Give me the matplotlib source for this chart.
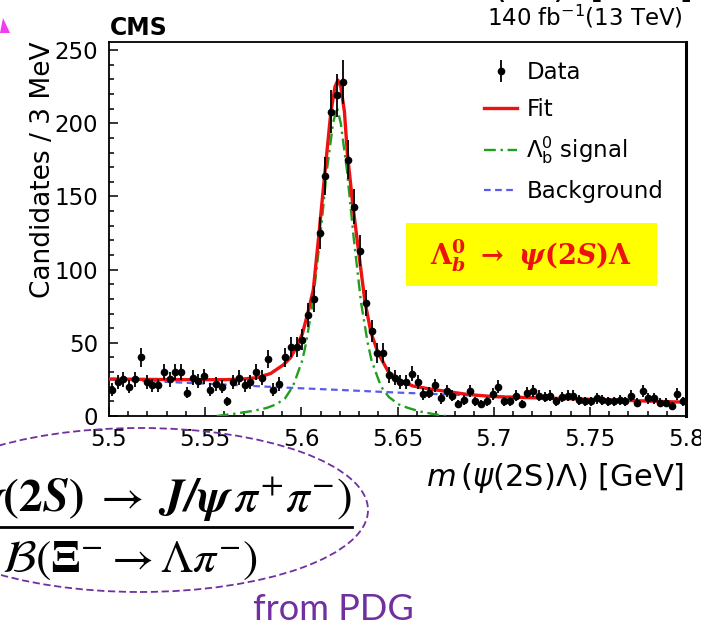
import numpy as np
import matplotlib
matplotlib.use("Agg")
import matplotlib.pyplot as plt
from matplotlib.patches import Ellipse, Polygon, Rectangle
from matplotlib.lines import Line2D
from matplotlib.font_manager import FontProperties
from matplotlib.ticker import MultipleLocator

# --- data ------------------------------------------------------------------
mass_lo, mass_hi, n_bins = 5.5, 5.8, 100
counts = [18, 23, 25, 20, 25, 40, 23, 21, 21, 30,
          25, 30, 30, 16, 26, 24, 27, 18, 22, 20,
          10, 23, 26, 21, 23, 30, 26, 39, 18, 22,
          40, 47, 47, 52, 69, 80, 125, 164, 208, 219,
          228, 175, 143, 113, 77, 58, 43, 43, 28, 26,
          23, 23, 29, 23, 15, 16, 21, 12, 17, 14,
          8, 11, 17, 10, 8, 10, 15, 20, 10, 10,
          14, 8, 16, 17, 14, 13, 14, 10, 13, 14,
          14, 11, 10, 10, 12, 11, 10, 10, 11, 10,
          14, 9, 17, 12, 12, 9, 9, 7, 15, 10]

# total fit (red)
fit_x = [5.500, 5.520, 5.540, 5.560, 5.570, 5.577, 5.584, 5.5905, 5.5945,
         5.5975, 5.6005, 5.6033, 5.6062, 5.6092, 5.612, 5.6153, 5.6175,
         5.619, 5.6205, 5.6224, 5.6239, 5.6267, 5.630, 5.6331, 5.6362,
         5.640, 5.6452, 5.651, 5.658, 5.668, 5.686, 5.700, 5.750, 5.800]
fit_y = [25.3, 25.0, 24.8, 24.8, 25.3, 26.2, 29.0, 34.8, 40.0,
         47.4, 56.0, 70.0, 86.0, 125.0, 163.0, 207.0, 225.0,
         229.5, 225.0, 208.0, 180.0, 145.0, 110.0, 78.0, 57.0,
         42.8, 30.3, 24.6, 20.5, 18.2, 14.8, 13.2, 11.4, 9.4]

# signal component (green)
sig_x = [5.556, 5.565, 5.575, 5.582, 5.587, 5.5915, 5.5955, 5.5975, 5.6005,
         5.6025, 5.6059, 5.6098, 5.6133, 5.615, 5.6165, 5.6185, 5.6205,
         5.622, 5.6237, 5.6272, 5.6311, 5.6345, 5.6365, 5.6395, 5.6415,
         5.6455, 5.6505, 5.6555, 5.662, 5.670, 5.675]
sig_y = [0.0, 1.5, 3.5, 5.5, 8.0, 12.0, 20.0, 27.0, 38.0,
         50.0, 77.0, 122.0, 168.0, 185.0, 200.0, 211.0, 200.0,
         185.0, 168.0, 122.0, 77.0, 50.0, 38.0, 27.0, 20.0,
         13.0, 8.0, 5.5, 3.0, 1.0, 0.0]

# background component (blue)
bkg_x = [5.50, 5.53, 5.56, 5.59, 5.62, 5.65, 5.68, 5.71, 5.74, 5.77, 5.80]
bkg_y = [25.0, 23.3, 21.5, 19.5, 17.8, 16.0, 14.5, 13.0, 11.8, 10.6, 9.5]

x_ticks = [5.5, 5.55, 5.6, 5.65, 5.7, 5.75, 5.8]
x_tick_labels = ["5.5", "5.55", "5.6", "5.65", "5.7", "5.75", "5.8"]
y_ticks = [0, 50, 100, 150, 200, 250]

legend_labels = ["Data", "Fit", r"$\Lambda_{\rm b}^{0}$ signal", "Background"]

# --- styles -----------------------------------------------------------------
W, H = 701, 626
RED = "#ee1111"
GREEN = "#1f9e1f"
BLUE = "#5a5af0"
PURPLE = "#7030a0"

plt.rcParams["font.family"] = ["DejaVu Sans"]
plt.rcParams["mathtext.fontset"] = "dejavusans"
plt.rcParams["mathtext.rm"] = "DejaVu Serif:bold"
plt.rcParams["mathtext.it"] = "DejaVu Serif:italic:bold"
plt.rcParams["mathtext.bf"] = "DejaVu Serif:bold"
plt.rcParams["mathtext.bfit"] = "DejaVu Serif:italic:bold"


def fx(px):
    return px / W


def fy(py):
    return 1 - py / H


fig = plt.figure(figsize=(W / 100, H / 100), dpi=100)
ax = fig.add_axes([fx(109), fy(416), fx(686) - fx(109), fy(42) - fy(416)])

edges = np.linspace(mass_lo, mass_hi, n_bins + 1)
centers = 0.5 * (edges[:-1] + edges[1:])
counts = np.array(counts, dtype=float)

bkg_line, = ax.plot(bkg_x, bkg_y, color=BLUE, lw=1.6, ls=(0, (3, 2)), zorder=2)
sig_line, = ax.plot(sig_x, sig_y, color=GREEN, lw=1.7, ls=(0, (5, 2, 1, 2)), zorder=3)
fit_line, = ax.plot(fit_x, fit_y, color=RED, lw=2.4, zorder=4)
eb = ax.errorbar(centers, counts, yerr=np.sqrt(counts), fmt="o", color="black",
                 ms=4.5, elinewidth=1.3, capsize=0, zorder=5)

ax.set_xlim(mass_lo, mass_hi)
ax.set_ylim(0, 255.5)
ax.set_xticks(x_ticks)
ax.set_xticklabels(x_tick_labels)
ax.set_yticks(y_ticks)
ax.xaxis.set_minor_locator(MultipleLocator(0.01))
ax.yaxis.set_minor_locator(MultipleLocator(10))
ax.tick_params(which="both", direction="in", top=False, right=False, width=1.1)
ax.tick_params(which="major", length=6.5, labelsize=16.5)
ax.tick_params(axis="x", which="major", pad=9)
ax.tick_params(axis="y", which="major", pad=8)
ax.tick_params(which="minor", length=3.6)
for s in ax.spines.values():
    s.set_linewidth(1.3)
ax.spines["right"].set_linewidth(2.2)

ax.set_ylabel("Candidates / 3 MeV", fontsize=19, loc="top")
ax.yaxis.set_label_coords((56 - 109) / 577, 1.0)
ax.set_xlabel(r"$m\,(\psi(\mathrm{2S})\Lambda)$ [GeV]", fontsize=22, loc="right",
              math_fontfamily="dejavusans")
ax.xaxis.set_label_coords((684 - 109) / 577, -(461 - 416) / 374)

leg_font = FontProperties(family="DejaVu Sans", size=16.5, math_fontfamily="dejavusans")
ax.legend([eb, fit_line, sig_line, bkg_line], legend_labels,
          loc="upper left", bbox_to_anchor=((484 - 109) / 577, 1 - (61 - 42) / 374),
          frameon=False, borderpad=0, borderaxespad=0, handlelength=1.45,
          handletextpad=0.4, labelspacing=0.6, prop=leg_font)

# yellow decay box
ax.add_patch(Rectangle((fx(406), fy(286)), fx(657) - fx(406), fy(223) - fy(286),
                       transform=fig.transFigure, facecolor="#ffff00",
                       edgecolor="none", zorder=6))
fig.text(fx(531), fy(256),
         r"$\mathbf{\Lambda}_{\mathbfit{b}}^{\mathbf{0}}\ \rightarrow\ \mathbfit{\psi}\mathbf{(2}\mathbfit{S}\mathbf{)\Lambda}$",
         color=RED, fontsize=19.5, ha="center", va="center",
         math_fontfamily="custom", zorder=7)

# CMS labels
fig.text(fx(110), fy(35), "CMS", fontsize=17, fontweight="bold", ha="left", va="baseline")
fig.text(fx(683), fy(25), r"140 fb$^{-1}$(13 TeV)", fontsize=16.5, ha="right",
         va="baseline", math_fontfamily="dejavusans")
# bottom of a slide title cut by the crop
fig.text(fx(693), fy(-3), "(2S)  [GeV]", fontsize=26, ha="right", va="baseline")

# slide decorations
fig.add_artist(Polygon([[fx(0), fy(33)], [fx(10), fy(33)], [fx(3), fy(18)]],
                       closed=True, transform=fig.transFigure,
                       facecolor="#f23cf0", edgecolor="none"))
fig.add_artist(Ellipse((fx(140), fy(510)), 2 * 228 / W, 2 * 82 / H,
                       transform=fig.transFigure, facecolor="none",
                       edgecolor=PURPLE, lw=1.3, ls=(0, (4, 2))))
fig.text(fx(352), fy(512),
         r"$\mathcal{B}(\mathbfit{\psi}\mathbf{(2}\mathbfit{S}\mathbf{)}\;\rightarrow\;\mathbfit{J/\psi}\,\pi^{+}\pi^{-})$",
         fontsize=34, ha="right", va="baseline", math_fontfamily="stix")
fig.add_artist(Line2D([fx(0), fx(352)], [fy(527), fy(527)], color="black", lw=2,
                      transform=fig.transFigure))
fig.text(fx(2), fy(572), r"$\mathcal{B}(\mathbf{\Xi}^{-}\rightarrow\Lambda\pi^{-})$",
         fontsize=33, ha="left", va="baseline", math_fontfamily="stix")
fig.text(fx(253), fy(620), "from PDG", fontsize=26, color=PURPLE,
         family="Lato", ha="left", va="baseline")

fig.savefig("out.png", dpi=100)
